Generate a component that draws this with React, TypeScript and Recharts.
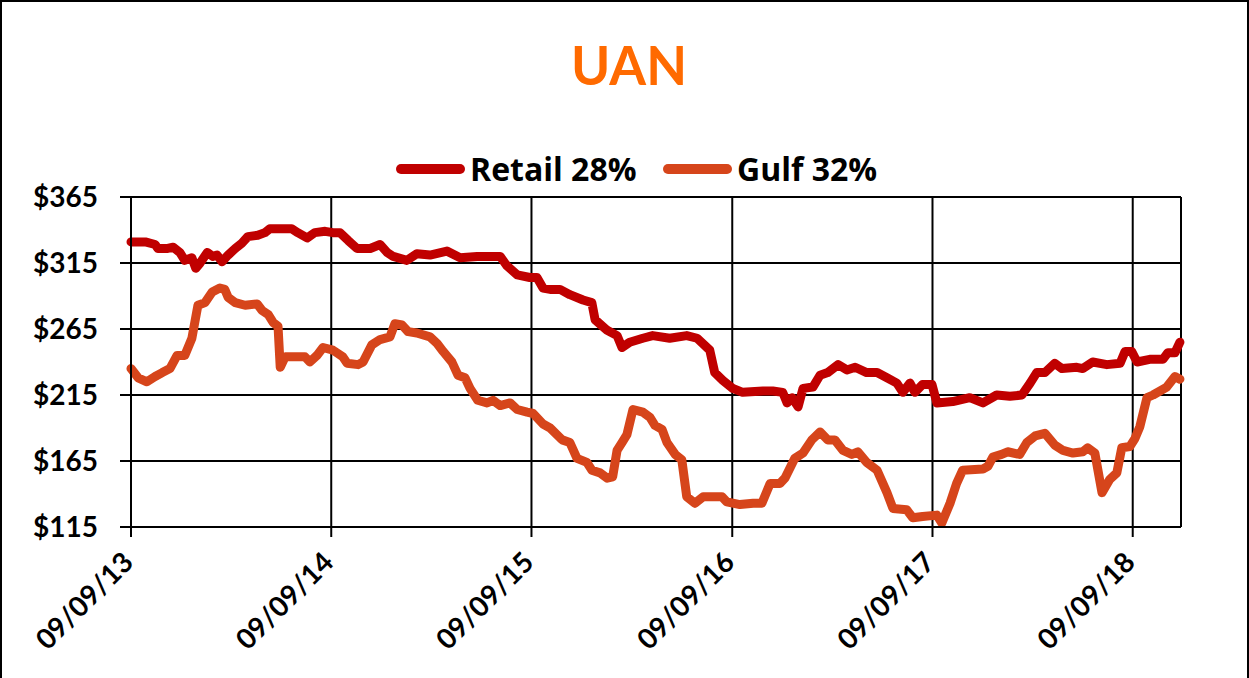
import React from 'react';
import {
  LineChart,
  Line,
  XAxis,
  YAxis,
  CartesianGrid,
  ReferenceLine
} from 'recharts';

// days since 09/09/13
const retailDay = [
  0, 26, 44, 49, 67, 77, 89, 98, 111, 118, 126, 139, 149, 157, 166, 177, 190, 202, 213, 231,
  244, 253, 268, 293, 304, 321, 335, 354, 368, 381, 396, 412, 436, 454, 467, 478, 503, 521, 545, 576,
  600, 631, 649, 673, 685, 704, 727, 740, 751, 764, 782, 800, 824, 840, 846, 868, 886, 895, 909, 933,
  951, 982, 1013, 1032, 1055, 1064, 1079, 1097, 1115, 1152, 1170, 1188, 1196, 1205, 1216, 1225, 1243, 1256, 1270, 1289,
  1305, 1320, 1341, 1360, 1378, 1396, 1407, 1420, 1429, 1443, 1460, 1469, 1498, 1529, 1553, 1578, 1602, 1624, 1639, 1651,
  1666, 1684, 1697, 1724, 1735, 1753, 1779, 1803, 1812, 1824, 1834, 1857, 1881, 1890, 1903, 1912
];
const retailPrice = [
  331, 331, 329, 326, 326, 327, 323, 317, 319, 311, 315, 323, 320, 321, 316, 321, 326, 330, 335, 336,
  338, 341, 341, 341, 338, 334, 338, 339, 338, 338, 332, 326, 326, 329, 323, 320, 317, 322, 321, 324,
  319, 320, 320, 320, 313, 306, 304, 304, 296, 295, 295, 291, 287, 285, 272, 264, 260, 251, 255, 258,
  260, 258, 260, 258, 249, 232, 226, 220, 217, 218, 218, 217, 209, 213, 206, 220, 221, 230, 232, 238,
  234, 236, 232, 232, 228, 224, 217, 224, 217, 223, 223, 209, 210, 213, 209, 215, 214, 215, 224, 232,
  232, 239, 235, 236, 235, 240, 238, 239, 248, 248, 240, 242, 242, 247, 247, 255
];

const gulfDay = [
  0, 13, 29, 44, 57, 71, 84, 98, 111, 122, 135, 148, 162, 171, 177, 190, 208, 230, 239, 250,
  259, 268, 272, 281, 317, 326, 339, 350, 368, 386, 394, 414, 423, 439, 454, 472, 481, 494, 505, 521,
  545, 558, 569, 585, 596, 609, 618, 632, 649, 660, 673, 691, 704, 722, 733, 751, 764, 786, 800, 813,
  831, 840, 855, 868, 878, 886, 895, 904, 915, 933, 946, 955, 968, 977, 992, 1004, 1013, 1028, 1043, 1077,
  1086, 1110, 1134, 1150, 1165, 1183, 1192, 1210, 1225, 1241, 1256, 1270, 1283, 1298, 1314, 1325, 1341, 1360, 1378, 1389,
  1414, 1425, 1443, 1469, 1478, 1493, 1505, 1516, 1553, 1562, 1571, 1587, 1598, 1620, 1633, 1648, 1666, 1684, 1699, 1717,
  1735, 1744, 1757, 1770, 1784, 1797, 1806, 1821, 1830, 1839, 1852, 1863, 1888, 1903, 1912
];
const gulfPrice = [
  235, 228, 225, 229, 232, 235, 245, 245, 258, 283, 285, 293, 296, 295, 289, 285, 283, 284, 279, 276,
  270, 267, 236, 244, 244, 240, 245, 251, 249, 244, 239, 238, 240, 253, 257, 259, 269, 268, 263, 262,
  259, 254, 248, 240, 230, 228, 220, 211, 209, 211, 207, 209, 204, 202, 201, 193, 190, 181, 179, 167,
  164, 158, 156, 152, 153, 173, 179, 185, 204, 202, 198, 192, 189, 179, 170, 166, 138, 133, 138, 138,
  134, 132, 133, 133, 148, 148, 152, 167, 171, 181, 187, 181, 181, 173, 170, 172, 164, 158, 141, 129,
  128, 122, 123, 124, 118, 133, 148, 158, 159, 161, 168, 170, 172, 170, 179, 184, 186, 177, 173, 171,
  172, 175, 171, 141, 151, 156, 175, 176, 182, 191, 213, 215, 221, 229, 227
];

const tickDays = [0, 365, 730, 1096, 1461, 1826];
const tickLabels = ['09/09/13', '09/09/14', '09/09/15', '09/09/16', '09/09/17', '09/09/18'];
const priceTicks = [115, 165, 215, 265, 315, 365];
const lastDay = 1914;

const retailData = retailDay.map((d, i) => ({ day: d, price: retailPrice[i] }));
const gulfData = gulfDay.map((d, i) => ({ day: d, price: gulfPrice[i] }));

const FONT = 'Lato, "Open Sans", sans-serif';
const LEGEND_FONT = '"Open Sans", Lato, sans-serif';
const RETAIL = '#C00000';
const GULF = '#D6451B';

const DateTick = (props: any) => {
  const { x, y, payload } = props;
  const idx = tickDays.indexOf(payload.value);
  return (
    <g transform={`translate(${x + 4},${y + 22})`}>
      <text
        x={0}
        y={0}
        textAnchor="end"
        transform="rotate(-45)"
        fill="#000"
        fontSize={28}
        fontWeight="bold"
        fontFamily={FONT}
      >
        {idx >= 0 ? tickLabels[idx] : ''}
      </text>
    </g>
  );
};

const LegendItem = ({ color, label, left }: { color: string; label: string; left: number }) => (
  <div style={{ position: 'absolute', left, top: 145, display: 'flex', alignItems: 'center' }}>
    <div style={{ width: 69, height: 10, borderRadius: 5, background: color, marginRight: 5 }} />
    <span style={{ fontFamily: LEGEND_FONT, fontWeight: 'bold', fontSize: 32, color: '#000', lineHeight: '44px' }}>
      {label}
    </span>
  </div>
);

export default function App() {
  return (
    <div
      style={{
        position: 'absolute',
        left: 0,
        top: 0,
        width: 1249,
        height: 678,
        background: '#fff',
        borderTop: '2px solid #000',
        borderLeft: '2px solid #000',
        borderRight: '2px solid #000',
        boxSizing: 'border-box',
        overflow: 'hidden'
      }}
    >
      <div
        style={{
          position: 'absolute',
          left: 0,
          width: 1254,
          top: 28,
          textAlign: 'center',
          fontFamily: FONT,
          fontWeight: 'bold',
          fontSize: 53,
          color: '#FF6A00',
          lineHeight: '70px'
        }}
      >
        UAN
      </div>
      <LegendItem color={RETAIL} label="Retail 28%" left={394} />
      <LegendItem color={GULF} label="Gulf 32%" left={661} />
      <div style={{ position: 'absolute', left: -2, top: -2 }}>
        <LineChart width={1249} height={678} margin={{ top: 197, right: 68, left: 21, bottom: 51 }}>
          <CartesianGrid stroke="#000" strokeWidth={2} />
          <XAxis
            dataKey="day"
            type="number"
            domain={[0, lastDay]}
            ticks={tickDays}
            interval={0}
            height={100}
            tickSize={10}
            tickMargin={5}
            axisLine={{ stroke: '#000', strokeWidth: 2 }}
            tickLine={{ stroke: '#000', strokeWidth: 2 }}
            tick={<DateTick />}
            allowDuplicatedCategory={false}
          />
          <YAxis
            type="number"
            domain={[115, 365]}
            ticks={priceTicks}
            interval={0}
            width={110}
            tickSize={11}
            tickMargin={22}
            axisLine={{ stroke: '#000', strokeWidth: 2 }}
            tickLine={{ stroke: '#000', strokeWidth: 2 }}
            tickFormatter={(v: number) => `$${v}`}
            tick={{ fill: '#000', fontSize: 28, fontWeight: 'bold', fontFamily: FONT }}
          />
          <ReferenceLine x={lastDay} stroke="#000" strokeWidth={2} />
          <Line
            data={retailData}
            dataKey="price"
            name="Retail 28%"
            type="linear"
            stroke={RETAIL}
            strokeWidth={9}
            strokeLinejoin="round"
            strokeLinecap="round"
            dot={false}
            isAnimationActive={false}
          />
          <Line
            data={gulfData}
            dataKey="price"
            name="Gulf 32%"
            type="linear"
            stroke={GULF}
            strokeWidth={9}
            strokeLinejoin="round"
            strokeLinecap="round"
            dot={false}
            isAnimationActive={false}
          />
        </LineChart>
      </div>
    </div>
  );
}
